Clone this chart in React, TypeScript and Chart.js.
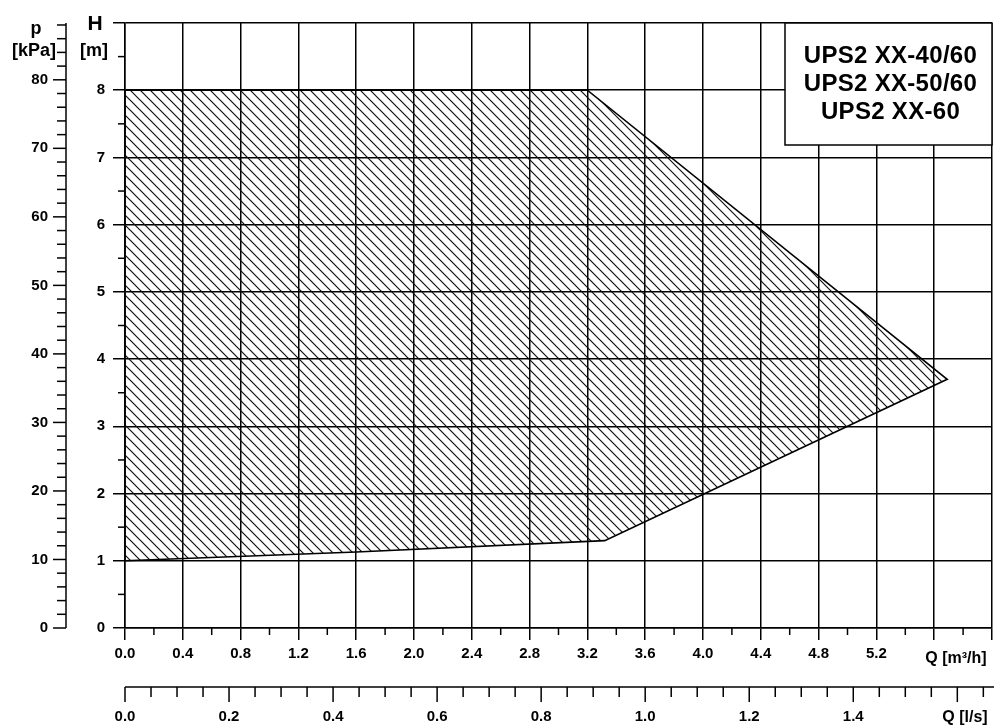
import React, { useEffect, useRef } from 'react';
import { Chart, registerables } from 'chart.js';

Chart.register(...registerables);

// ---- data ----
const areaQ = [0.0, 1.6, 3.32, 5.69, 3.2, 0.0, 0.0];
const areaH = [1.0, 1.13, 1.3, 3.7, 8.0, 8.0, 1.0];

const qTickLabels = ['0.0', '0.4', '0.8', '1.2', '1.6', '2.0', '2.4', '2.8', '3.2', '3.6', '4.0', '4.4', '4.8', '5.2'];
const hTickLabels = ['0', '1', '2', '3', '4', '5', '6', '7', '8'];
const kPaTickValues = [0, 10, 20, 30, 40, 50, 60, 70, 80];
const lsTickValues = [0.0, 0.2, 0.4, 0.6, 0.8, 1.0, 1.2, 1.4];
const modelNames = ['UPS2 XX-40/60', 'UPS2 XX-50/60', 'UPS2 XX-60'];

const Q_MAX = 6.0;
const H_MAX = 9;
const Q_STEP = 0.4;
const KPA_PER_M = 9.81;
const M3H_PER_LS = 3.6;
const KPA_MAX = 88;
const LS_MAX_STEPS = 33; // 0.05 l/s steps

const FONT = "'Liberation Sans', Arial, sans-serif";

function line(ctx: CanvasRenderingContext2D, x1: number, y1: number, x2: number, y2: number) {
  ctx.beginPath();
  ctx.moveTo(x1, y1);
  ctx.lineTo(x2, y2);
  ctx.stroke();
}

const extraAxesPlugin = {
  id: 'extraAxes',
  afterDraw(chart: any) {
    const ctx: CanvasRenderingContext2D = chart.ctx;
    const xs = chart.scales.x;
    const ys = chart.scales.y;
    const ca = chart.chartArea;
    ctx.save();
    ctx.strokeStyle = '#000';
    ctx.fillStyle = '#000';
    ctx.lineWidth = 1.5;

    // minor ticks on Q [m3/h] axis
    for (let i = 0; i < Math.round(Q_MAX / 0.2); i++) {
      if (i % 2 === 1) {
        const px = xs.getPixelForValue(i * 0.2);
        line(ctx, px, ca.bottom, px, ca.bottom + 7);
      }
    }
    // minor ticks on H axis
    for (let i = 0; i < H_MAX; i++) {
      const py = ys.getPixelForValue(i + 0.5);
      line(ctx, ca.left - 7, py, ca.left, py);
    }

    // p [kPa] axis
    const axX = ca.left - 59;
    line(ctx, axX, ys.getPixelForValue(H_MAX), axX, ys.getPixelForValue(0));
    for (let k = 0; k <= KPA_MAX; k += 2) {
      const py = ys.getPixelForValue(k / KPA_PER_M);
      const major = k % 10 === 0;
      line(ctx, axX - (major ? 13 : 9), py, axX, py);
    }
    ctx.font = `bold 15px ${FONT}`;
    ctx.textAlign = 'right';
    ctx.textBaseline = 'middle';
    kPaTickValues.forEach((k) => {
      ctx.fillText(String(k), axX - 18, ys.getPixelForValue(k / KPA_PER_M));
    });

    // Q [l/s] axis
    const axY = ca.bottom + 59;
    line(ctx, ca.left, axY, ca.right + 2, axY);
    for (let i = 0; i <= LS_MAX_STEPS; i++) {
      const px = xs.getPixelForValue(i * 0.05 * M3H_PER_LS);
      const major = i % 4 === 0;
      line(ctx, px, axY, px, axY + (major ? 15 : 10));
    }
    ctx.textAlign = 'center';
    lsTickValues.forEach((v) => {
      ctx.fillText(v.toFixed(1), xs.getPixelForValue(v * M3H_PER_LS), axY + 30);
    });

    // axis titles
    ctx.font = `bold 16px ${FONT}`;
    ctx.fillText('Q [m³/h]', ca.right - 36, ca.bottom + 31);
    ctx.fillText('Q [l/s]', ca.right - 27, axY + 31);

    ctx.font = `bold 18px ${FONT}`;
    ctx.fillText('p', axX - 30, 29);
    ctx.fillText('[kPa]', axX - 32, 51);
    ctx.fillText('[m]', ca.left - 31, 51);
    ctx.font = `bold 21px ${FONT}`;
    ctx.fillText('H', ca.left - 30, ys.getPixelForValue(H_MAX) + 1);

    // model box
    const bw = 207;
    const bh = 122;
    const bx = ca.right - bw;
    const by = ca.top;
    ctx.fillStyle = '#fff';
    ctx.fillRect(bx, by, bw, bh);
    ctx.lineWidth = 1.5;
    ctx.strokeRect(bx, by, bw, bh);
    ctx.fillStyle = '#000';
    ctx.font = `bold 24px ${FONT}`;
    try { (ctx as any).letterSpacing = '0.3px'; } catch (e) { /* ignore */ }
    modelNames.forEach((name, i) => {
      ctx.fillText(name, bx + bw / 2 + 2, by + 33 + i * 28);
    });
    ctx.restore();
  },
};

function makeHatch(): CanvasPattern | string {
  const c = document.createElement('canvas');
  c.width = 10;
  c.height = 10;
  const g = c.getContext('2d');
  if (!g) return 'rgba(0,0,0,0.2)';
  g.strokeStyle = '#111';
  g.lineWidth = 1.2;
  g.beginPath();
  g.moveTo(-2, -2);
  g.lineTo(12, 12);
  g.moveTo(-2, 8);
  g.lineTo(2, 12);
  g.moveTo(8, -2);
  g.lineTo(12, 2);
  g.stroke();
  const p = g.createPattern(c, 'repeat');
  return p || 'rgba(0,0,0,0.2)';
}

export default function App() {
  const canvasRef = useRef<HTMLCanvasElement | null>(null);

  useEffect(() => {
    document.body.style.margin = '0';
    const canvas = canvasRef.current;
    if (!canvas) return;
    const hatch = makeHatch();
    const points = areaQ.map((q, i) => ({ x: q, y: areaH[i] }));
    const chart = new Chart(canvas, {
      type: 'scatter',
      data: {
        datasets: [
          {
            data: points,
            showLine: true,
            fill: 'shape' as any,
            backgroundColor: hatch as any,
            borderColor: '#000',
            borderWidth: 1.6,
            pointRadius: 0,
            tension: 0,
          },
        ],
      },
      options: {
        responsive: false,
        animation: false,
        devicePixelRatio: 1,
        layout: { padding: { top: 23, right: 2, left: 0, bottom: 0 } },
        plugins: { legend: { display: false }, tooltip: { enabled: false } },
        scales: {
          x: {
            type: 'linear',
            position: 'bottom',
            min: 0,
            max: Q_MAX,
            ticks: {
              stepSize: Q_STEP,
              autoSkip: false,
              maxRotation: 0,
              color: '#000',
              padding: 5,
              font: { family: FONT, weight: 'bold', size: 15 },
              callback: (v: any) => {
                const i = Math.round(Number(v) / Q_STEP);
                return i < qTickLabels.length ? qTickLabels[i] : '';
              },
            },
            grid: { color: '#000', lineWidth: 1.5, tickLength: 12, drawTicks: true },
            border: { color: '#000', width: 1.5 },
            afterFit: (s: any) => { s.height = 99; },
          },
          y: {
            type: 'linear',
            position: 'left',
            min: 0,
            max: H_MAX,
            ticks: {
              stepSize: 1,
              autoSkip: false,
              color: '#000',
              padding: 8,
              font: { family: FONT, weight: 'bold', size: 15 },
              callback: (v: any) => {
                const i = Math.round(Number(v));
                return i < hTickLabels.length ? hTickLabels[i] : '';
              },
            },
            grid: { color: '#000', lineWidth: 1.5, tickLength: 12, drawTicks: true },
            border: { color: '#000', width: 1.5 },
            afterFit: (s: any) => { s.width = 125; },
          },
        },
      } as any,
      plugins: [extraAxesPlugin],
    });
    return () => chart.destroy();
  }, []);

  return (
    <div style={{ width: 997, height: 727, background: '#fff' }}>
      <canvas ref={canvasRef} width={997} height={727} style={{ display: 'block' }} />
    </div>
  );
}
